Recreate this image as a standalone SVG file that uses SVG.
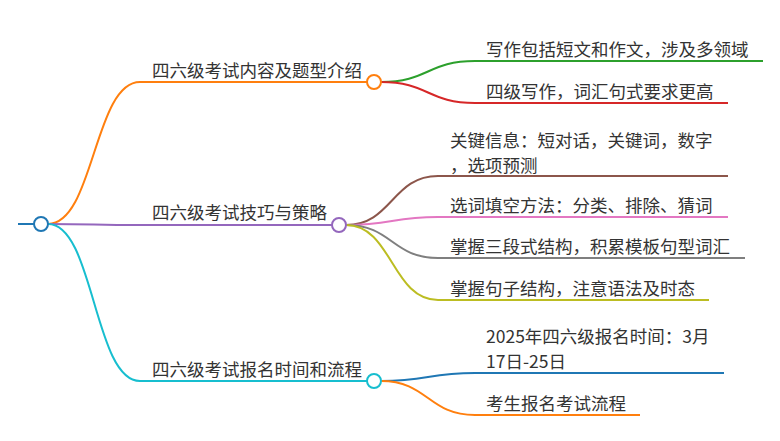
<svg xmlns="http://www.w3.org/2000/svg" width="780" height="441" viewBox="0 0 780 441">
<style>
text{font-family:"Noto Sans CJK SC","Noto Sans",sans-serif;font-size:17.5px;fill:#333}
.l{fill:none;stroke-width:2}
.c{fill:#fff;stroke-width:2}
</style>
<rect width="780" height="441" fill="#fff"/>
<g id="connectors">
<path class="l" stroke="#1f77b4" stroke-width="3" d="M18,224 H34"/>
<path class="l" stroke="#ff7f0e" d="M48,224 C94,224 94,82 140,82 H367"/>
<path class="l" stroke="#9467bd" d="M48,224 C94,224 94,225 140,225 H332"/>
<path class="l" stroke="#17becf" d="M48,224 C94,224 94,381 140,381 H367"/>
<path class="l" stroke="#2ca02c" d="M381,82 C428,82 428,61 475,61 H763"/>
<path class="l" stroke="#d62728" d="M381,82 C428,82 428,103 475,103 H728"/>
<path class="l" stroke="#8c564b" d="M346,225 C392,225 392,176 438,176 H728"/>
<path class="l" stroke="#e377c2" d="M346,225 C392,225 392,217 438,217 H728"/>
<path class="l" stroke="#7f7f7f" d="M346,225 C392,225 392,258 438,258 H745"/>
<path class="l" stroke="#bcbd22" d="M346,225 C392,225 392,300 438,300 H709"/>
<path class="l" stroke="#1f77b4" d="M381,381 C428,381 428,373 475,373 H724"/>
<path class="l" stroke="#ff7f0e" d="M381,381 C428,381 428,415 475,415 H640"/>
</g>
<g id="root"><circle class="c" cx="41" cy="224" r="7" stroke="#1f77b4"/></g>
<g id="b1"><circle class="c" cx="374" cy="82" r="7" stroke="#ff7f0e"/><text x="152" y="77">四六级考试内容及题型介绍</text></g>
<g id="b2"><circle class="c" cx="339" cy="225" r="7" stroke="#9467bd"/><text x="152" y="219">四六级考试技巧与策略</text></g>
<g id="b3"><circle class="c" cx="374" cy="381" r="7" stroke="#17becf"/><text x="152" y="376">四六级考试报名时间和流程</text></g>
<g id="c11"><text x="486" y="56">写作包括短文和作文，涉及多领域</text></g>
<g id="c12"><text x="486" y="98">四级写作，词汇句式要求更高</text></g>
<g id="c21"><text x="450" y="147">关键信息：短对话，关键词，数字</text><text x="450" y="172">，选项预测</text></g>
<g id="c22"><text x="450" y="212">选词填空方法：分类、排除、猜词</text></g>
<g id="c23"><text x="450" y="253">掌握三段式结构，积累模板句型词汇</text></g>
<g id="c24"><text x="450" y="295">掌握句子结构，注意语法及时态</text></g>
<g id="c31"><text x="486" y="343">2025年四六级报名时间：3月</text><text x="486" y="368">17日-25日</text></g>
<g id="c32"><text x="486" y="410">考生报名考试流程</text></g>
</svg>
